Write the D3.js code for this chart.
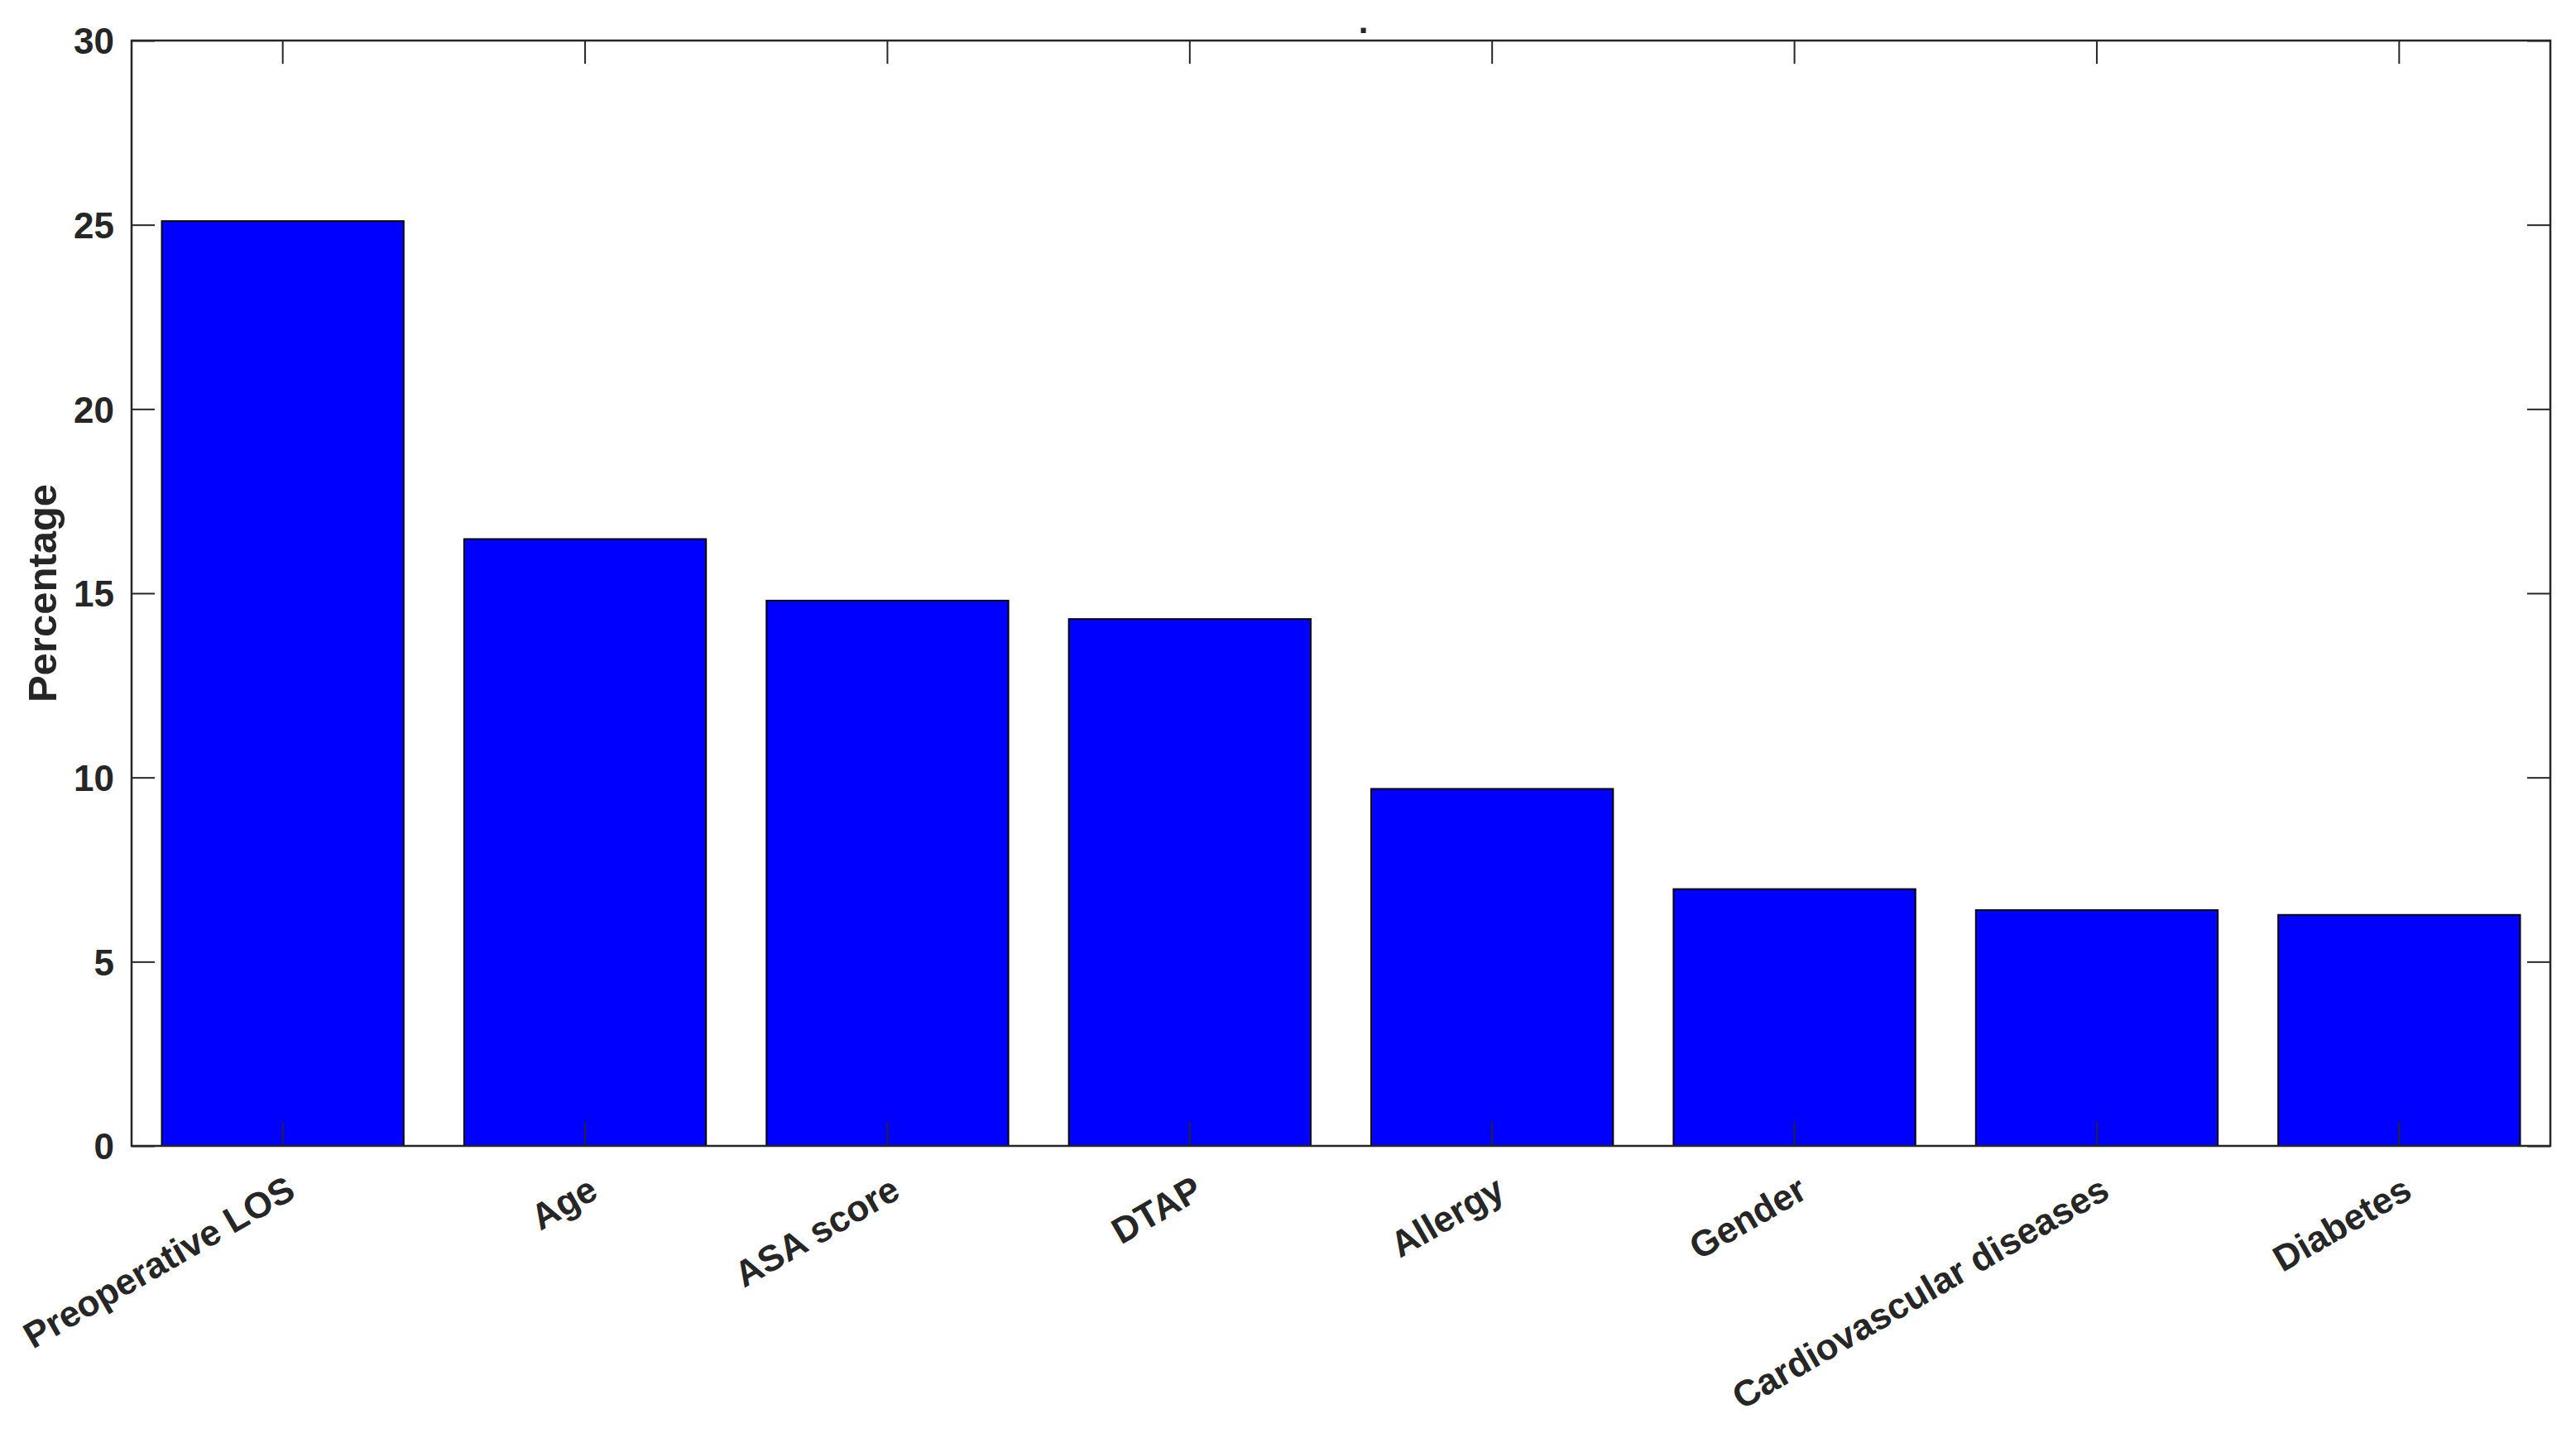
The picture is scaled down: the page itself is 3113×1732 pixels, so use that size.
<!DOCTYPE html>
<html>
<head>
<meta charset="utf-8">
<script src="https://cdn.jsdelivr.net/npm/d3@7"></script>
<style>
  html, body { margin: 0; padding: 0; background: #ffffff; }
  svg { display: block; }
  text { font-family: "Liberation Sans", Arial, Helvetica, sans-serif; font-weight: bold; fill: #262626; }
</style>
</head>
<body>
<script>
const categories = ["Preoperative LOS", "Age", "ASA score", "DTAP", "Allergy", "Gender", "Cardiovascular diseases", "Diabetes"];
const values = [25.1, 16.47, 14.8, 14.3, 9.69, 6.97, 6.4, 6.27];
const yTicks = [0, 5, 10, 15, 20, 25, 30];
const yLabel = "Percentage";
const titleText = ".";

const W = 3113, H = 1732;
const margin = { left: 159, right: W - 3082, top: 49, bottom: H - 1385 };
const x0 = margin.left, x1 = W - margin.right, y0 = margin.top, y1 = H - margin.bottom;
const axisColor = "#262626";

const svg = d3.select("body").append("svg").attr("width", W).attr("height", H);

const x = d3.scaleBand().domain(categories).range([x0, x1]).paddingInner(0.2).paddingOuter(0.1);
const y = d3.scaleLinear().domain([0, 30]).range([y1, y0]);

// bars
svg.append("g").selectAll("rect").data(categories).join("rect")
  .attr("x", d => x(d))
  .attr("y", (d, i) => y(values[i]))
  .attr("width", x.bandwidth())
  .attr("height", (d, i) => y(0) - y(values[i]))
  .attr("fill", "#0000FF")
  .attr("stroke", "#000000")
  .attr("stroke-width", 2);

const tickLen = 28;
const fontTick = 44;

// bottom axis (inner ticks, rotated labels)
const xAxisB = svg.append("g").attr("transform", `translate(0,${y1})`)
  .call(d3.axisBottom(x).tickSize(-tickLen).tickSizeOuter(0).tickPadding(0));
xAxisB.select(".domain").remove();
xAxisB.selectAll(".tick line").attr("stroke", axisColor).attr("stroke-width", 2);
xAxisB.selectAll(".tick text")
  .attr("font-size", fontTick)
  .attr("text-anchor", "end")
  .attr("y", 0).attr("dy", "0.72em")
  .attr("transform", "translate(2,34) rotate(-30)");

// top axis ticks
const xAxisT = svg.append("g").attr("transform", `translate(0,${y0})`)
  .call(d3.axisTop(x).tickSize(-tickLen).tickSizeOuter(0).tickFormat(""));
xAxisT.select(".domain").remove();
xAxisT.selectAll(".tick line").attr("stroke", axisColor).attr("stroke-width", 2);

// left axis
const yAxisL = svg.append("g").attr("transform", `translate(${x0},0)`)
  .call(d3.axisLeft(y).tickValues(yTicks).tickSize(-tickLen).tickSizeOuter(0).tickPadding(21));
yAxisL.select(".domain").remove();
yAxisL.selectAll(".tick line").attr("stroke", axisColor).attr("stroke-width", 2);
yAxisL.selectAll(".tick text").attr("font-size", fontTick).attr("x", -21).attr("dy", "0.36em");

// right axis ticks
const yAxisR = svg.append("g").attr("transform", `translate(${x1},0)`)
  .call(d3.axisRight(y).tickValues(yTicks).tickSize(-tickLen).tickSizeOuter(0).tickFormat(""));
yAxisR.select(".domain").remove();
yAxisR.selectAll(".tick line").attr("stroke", axisColor).attr("stroke-width", 2);

// box
svg.append("rect")
  .attr("x", x0).attr("y", y0).attr("width", x1 - x0).attr("height", y1 - y0)
  .attr("fill", "none").attr("stroke", axisColor).attr("stroke-width", 2.5);

// y label
svg.append("text")
  .attr("transform", `translate(68,${(y0 + y1) / 2}) rotate(-90)`)
  .attr("text-anchor", "middle")
  .attr("font-size", 49)
  .text(yLabel);

// title
svg.append("text")
  .attr("x", (x0 + x1) / 2 + 27).attr("y", 40)
  .attr("text-anchor", "middle")
  .attr("font-size", 42)
  .text(titleText);
</script>
</body>
</html>
